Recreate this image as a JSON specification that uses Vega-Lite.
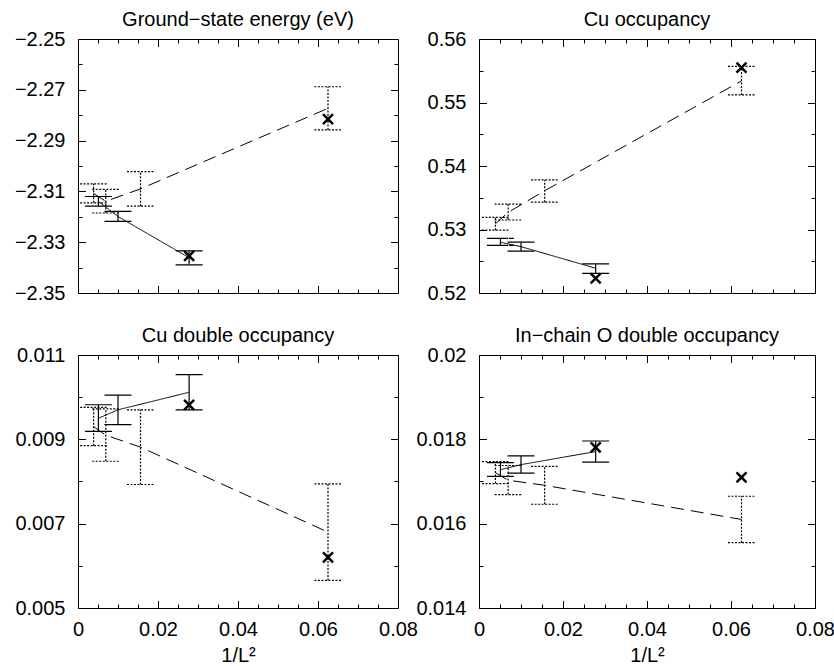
{
  "$schema": "https://vega.github.io/schema/vega-lite/v6.json",
  "padding": {"left": 13, "top": 9, "right": 5, "bottom": 0},
  "background": "white",
  "datasets": {
    "bars": [
      {"panel": "E", "L": 4, "x": 0.0625, "series": "B", "y": -2.2773, "lo": -2.2858, "hi": -2.2688},
      {"panel": "E", "L": 8, "x": 0.015625, "series": "B", "y": -2.309, "lo": -2.3158, "hi": -2.3022},
      {"panel": "E", "L": 12, "x": 0.006944, "series": "B", "y": -2.3139, "lo": -2.3185, "hi": -2.3092},
      {"panel": "E", "L": 16, "x": 0.003906, "series": "B", "y": -2.3108, "lo": -2.3145, "hi": -2.307},
      {"panel": "E", "L": 6, "x": 0.027778, "series": "A", "y": -2.3361, "lo": -2.3389, "hi": -2.3334},
      {"panel": "E", "L": 10, "x": 0.01, "series": "A", "y": -2.3199, "lo": -2.3218, "hi": -2.3179},
      {"panel": "E", "L": 14, "x": 0.005102, "series": "A", "y": -2.3139, "lo": -2.3158, "hi": -2.312},
      {"panel": "C", "L": 4, "x": 0.0625, "series": "B", "y": 0.5534, "lo": 0.5512, "hi": 0.5557},
      {"panel": "C", "L": 8, "x": 0.015625, "series": "B", "y": 0.5361, "lo": 0.5343, "hi": 0.5378},
      {"panel": "C", "L": 12, "x": 0.006944, "series": "B", "y": 0.5327, "lo": 0.5315, "hi": 0.534},
      {"panel": "C", "L": 16, "x": 0.003906, "series": "B", "y": 0.5309, "lo": 0.5299, "hi": 0.5319},
      {"panel": "C", "L": 6, "x": 0.027778, "series": "A", "y": 0.5239, "lo": 0.5231, "hi": 0.5246},
      {"panel": "C", "L": 10, "x": 0.01, "series": "A", "y": 0.5273, "lo": 0.5266, "hi": 0.528},
      {"panel": "C", "L": 14, "x": 0.005102, "series": "A", "y": 0.528, "lo": 0.5275, "hi": 0.5286},
      {"panel": "D", "L": 4, "x": 0.0625, "series": "B", "y": 0.0068, "lo": 0.005655, "hi": 0.007945},
      {"panel": "D", "L": 8, "x": 0.015625, "series": "B", "y": 0.008814, "lo": 0.007929, "hi": 0.0097},
      {"panel": "D", "L": 12, "x": 0.006944, "series": "B", "y": 0.0091, "lo": 0.00848, "hi": 0.00972},
      {"panel": "D", "L": 16, "x": 0.003906, "series": "B", "y": 0.0093, "lo": 0.00885, "hi": 0.00976},
      {"panel": "D", "L": 6, "x": 0.027778, "series": "A", "y": 0.010116, "lo": 0.009697, "hi": 0.010534},
      {"panel": "D", "L": 10, "x": 0.01, "series": "A", "y": 0.0097, "lo": 0.00935, "hi": 0.01005},
      {"panel": "D", "L": 14, "x": 0.005102, "series": "A", "y": 0.0095, "lo": 0.00919, "hi": 0.00982},
      {"panel": "O", "L": 4, "x": 0.0625, "series": "B", "y": 0.0161, "lo": 0.01555, "hi": 0.01665},
      {"panel": "O", "L": 8, "x": 0.015625, "series": "B", "y": 0.01691, "lo": 0.01646, "hi": 0.01736},
      {"panel": "O", "L": 12, "x": 0.006944, "series": "B", "y": 0.01703, "lo": 0.01669, "hi": 0.01738},
      {"panel": "O", "L": 16, "x": 0.003906, "series": "B", "y": 0.01721, "lo": 0.01695, "hi": 0.01747},
      {"panel": "O", "L": 6, "x": 0.027778, "series": "A", "y": 0.01771, "lo": 0.01746, "hi": 0.01796},
      {"panel": "O", "L": 10, "x": 0.01, "series": "A", "y": 0.0174, "lo": 0.0172, "hi": 0.01761},
      {"panel": "O", "L": 14, "x": 0.005102, "series": "A", "y": 0.01728, "lo": 0.01712, "hi": 0.01745}
    ],
    "exact": [
      {"panel": "E", "x": 0.027778, "y": -2.3354},
      {"panel": "E", "x": 0.0625, "y": -2.2815},
      {"panel": "C", "x": 0.027778, "y": 0.5223},
      {"panel": "C", "x": 0.0625, "y": 0.5555},
      {"panel": "D", "x": 0.027778, "y": 0.009816},
      {"panel": "D", "x": 0.0625, "y": 0.0062},
      {"panel": "O", "x": 0.027778, "y": 0.01781},
      {"panel": "O", "x": 0.0625, "y": 0.0171}
    ]
  },
  "columns": 2,
  "align": "each",
  "bounds": "flush",
  "spacing": {"row": 62, "column": 81},
  "concat": [
    {
      "width": 320, "height": 254,
      "title": {"text": "Ground−state energy (eV)"},
      "resolve": {"axis": {"x": "independent", "y": "independent"}, "scale": {"strokeDash": "independent"}},
      "layer": [
        {
          "data": {"name": "bars"}, "transform": [{"filter": "datum.panel === 'E'"}],
          "mark": {"type": "rule", "strokeWidth": 1.2, "color": "black"},
          "encoding": {
            "x": {"field": "x", "type": "quantitative", "scale": {"domain": [0, 0.08], "nice": false, "zero": false},
              "axis": {"orient": "bottom", "values": [0,0.005,0.01,0.015,0.02,0.025,0.03,0.035,0.04,0.045,0.05,0.055,0.06,0.065,0.07,0.075,0.08], "labels": false, "title": null,
                "tickSize": {"condition": {"test": "abs(datum.value/0.02 - round(datum.value/0.02)) < 1e-6", "value": -7.5}, "value": -4}}},
            "y": {"field": "lo", "type": "quantitative", "scale": {"domain": [-2.35, -2.25], "nice": false, "zero": false},
              "axis": {"orient": "left", "values": [-2.35,-2.34,-2.33,-2.32,-2.31,-2.3,-2.29,-2.28,-2.27,-2.26,-2.25], "title": null, "format": ".2f",
                "labelExpr": "abs((datum.value+2.35)/0.02 - round((datum.value+2.35)/0.02)) < 1e-6 ? datum.label : ''",
                "tickSize": {"condition": {"test": "abs((datum.value+2.35)/0.02 - round((datum.value+2.35)/0.02)) < 1e-6", "value": -7.5}, "value": -4}}},
            "y2": {"field": "hi"},
            "strokeDash": {"field": "series", "type": "nominal", "scale": {"domain": ["A", "B"], "range": [[1, 0], [2, 1.5]]}, "legend": null}
          }
        },
        {
          "data": {"name": "bars"}, "transform": [{"filter": "datum.panel === 'E'"}],
          "mark": {"type": "rule", "strokeWidth": 1.2, "color": "black", "xOffset": -13.5, "x2Offset": 13.5},
          "encoding": {
            "x": {"field": "x", "type": "quantitative", "axis": null}, "x2": {"field": "x"},
            "y": {"field": "lo", "type": "quantitative", "axis": null},
            "strokeDash": {"field": "series", "type": "nominal", "scale": {"domain": ["A", "B"], "range": [[1, 0], [2, 1.5]]}, "legend": null}
          }
        },
        {
          "data": {"name": "bars"}, "transform": [{"filter": "datum.panel === 'E'"}],
          "mark": {"type": "rule", "strokeWidth": 1.2, "color": "black", "xOffset": -13.5, "x2Offset": 13.5},
          "encoding": {
            "x": {"field": "x", "type": "quantitative", "axis": null}, "x2": {"field": "x"},
            "y": {"field": "hi", "type": "quantitative", "axis": null},
            "strokeDash": {"field": "series", "type": "nominal", "scale": {"domain": ["A", "B"], "range": [[1, 0], [2, 1.5]]}, "legend": null}
          }
        },
        {
          "data": {"name": "bars"}, "transform": [{"filter": "datum.panel === 'E'"}],
          "mark": {"type": "line", "strokeWidth": 1, "color": "black"},
          "encoding": {
            "x": {"field": "x", "type": "quantitative",
              "axis": {"orient": "top", "values": [0,0.005,0.01,0.015,0.02,0.025,0.03,0.035,0.04,0.045,0.05,0.055,0.06,0.065,0.07,0.075,0.08], "labels": false, "title": null,
                "tickSize": {"condition": {"test": "abs(datum.value/0.02 - round(datum.value/0.02)) < 1e-6", "value": -7.5}, "value": -4}}},
            "y": {"field": "y", "type": "quantitative",
              "axis": {"orient": "right", "values": [-2.35,-2.34,-2.33,-2.32,-2.31,-2.3,-2.29,-2.28,-2.27,-2.26,-2.25], "labels": false, "title": null,
                "tickSize": {"condition": {"test": "abs((datum.value+2.35)/0.02 - round((datum.value+2.35)/0.02)) < 1e-6", "value": -7.5}, "value": -4}}},
            "strokeDash": {"field": "series", "type": "nominal", "scale": {"domain": ["A", "B"], "range": [[1, 0], [13, 7]]}, "legend": null}
          }
        },
        {
          "data": {"name": "exact"}, "transform": [{"filter": "datum.panel === 'E'"}],
          "mark": {"type": "point", "shape": "M-1,-1L1,1M-1,1L1,-1", "size": 100, "filled": false, "stroke": "black", "strokeWidth": 2.5, "opacity": 1},
          "encoding": {
            "x": {"field": "x", "type": "quantitative", "axis": null},
            "y": {"field": "y", "type": "quantitative", "axis": null}
          }
        }
      ]
    },
    {
      "width": 336, "height": 254,
      "title": {"text": "Cu occupancy"},
      "resolve": {"axis": {"x": "independent", "y": "independent"}, "scale": {"strokeDash": "independent"}},
      "layer": [
        {
          "data": {"name": "bars"}, "transform": [{"filter": "datum.panel === 'C'"}],
          "mark": {"type": "rule", "strokeWidth": 1.2, "color": "black"},
          "encoding": {
            "x": {"field": "x", "type": "quantitative", "scale": {"domain": [0, 0.08], "nice": false, "zero": false},
              "axis": {"orient": "bottom", "values": [0,0.005,0.01,0.015,0.02,0.025,0.03,0.035,0.04,0.045,0.05,0.055,0.06,0.065,0.07,0.075,0.08], "labels": false, "title": null,
                "tickSize": {"condition": {"test": "abs(datum.value/0.02 - round(datum.value/0.02)) < 1e-6", "value": -7.5}, "value": -4}}},
            "y": {"field": "lo", "type": "quantitative", "scale": {"domain": [0.52, 0.56], "nice": false, "zero": false},
              "axis": {"orient": "left", "values": [0.52,0.525,0.53,0.535,0.54,0.545,0.55,0.555,0.56], "title": null, "format": ".2f",
                "labelExpr": "abs((datum.value-0.52)/0.01 - round((datum.value-0.52)/0.01)) < 1e-6 ? datum.label : ''",
                "tickSize": {"condition": {"test": "abs((datum.value-0.52)/0.01 - round((datum.value-0.52)/0.01)) < 1e-6", "value": -7.5}, "value": -4}}},
            "y2": {"field": "hi"},
            "strokeDash": {"field": "series", "type": "nominal", "scale": {"domain": ["A", "B"], "range": [[1, 0], [2, 1.5]]}, "legend": null}
          }
        },
        {
          "data": {"name": "bars"}, "transform": [{"filter": "datum.panel === 'C'"}],
          "mark": {"type": "rule", "strokeWidth": 1.2, "color": "black", "xOffset": -13.5, "x2Offset": 13.5},
          "encoding": {
            "x": {"field": "x", "type": "quantitative", "axis": null}, "x2": {"field": "x"},
            "y": {"field": "lo", "type": "quantitative", "axis": null},
            "strokeDash": {"field": "series", "type": "nominal", "scale": {"domain": ["A", "B"], "range": [[1, 0], [2, 1.5]]}, "legend": null}
          }
        },
        {
          "data": {"name": "bars"}, "transform": [{"filter": "datum.panel === 'C'"}],
          "mark": {"type": "rule", "strokeWidth": 1.2, "color": "black", "xOffset": -13.5, "x2Offset": 13.5},
          "encoding": {
            "x": {"field": "x", "type": "quantitative", "axis": null}, "x2": {"field": "x"},
            "y": {"field": "hi", "type": "quantitative", "axis": null},
            "strokeDash": {"field": "series", "type": "nominal", "scale": {"domain": ["A", "B"], "range": [[1, 0], [2, 1.5]]}, "legend": null}
          }
        },
        {
          "data": {"name": "bars"}, "transform": [{"filter": "datum.panel === 'C'"}],
          "mark": {"type": "line", "strokeWidth": 1, "color": "black"},
          "encoding": {
            "x": {"field": "x", "type": "quantitative",
              "axis": {"orient": "top", "values": [0,0.005,0.01,0.015,0.02,0.025,0.03,0.035,0.04,0.045,0.05,0.055,0.06,0.065,0.07,0.075,0.08], "labels": false, "title": null,
                "tickSize": {"condition": {"test": "abs(datum.value/0.02 - round(datum.value/0.02)) < 1e-6", "value": -7.5}, "value": -4}}},
            "y": {"field": "y", "type": "quantitative",
              "axis": {"orient": "right", "values": [0.52,0.525,0.53,0.535,0.54,0.545,0.55,0.555,0.56], "labels": false, "title": null,
                "tickSize": {"condition": {"test": "abs((datum.value-0.52)/0.01 - round((datum.value-0.52)/0.01)) < 1e-6", "value": -7.5}, "value": -4}}},
            "strokeDash": {"field": "series", "type": "nominal", "scale": {"domain": ["A", "B"], "range": [[1, 0], [13, 7]]}, "legend": null}
          }
        },
        {
          "data": {"name": "exact"}, "transform": [{"filter": "datum.panel === 'C'"}],
          "mark": {"type": "point", "shape": "M-1,-1L1,1M-1,1L1,-1", "size": 100, "filled": false, "stroke": "black", "strokeWidth": 2.5, "opacity": 1},
          "encoding": {
            "x": {"field": "x", "type": "quantitative", "axis": null},
            "y": {"field": "y", "type": "quantitative", "axis": null}
          }
        }
      ]
    },
    {
      "width": 320, "height": 253,
      "title": {"text": "Cu double occupancy"},
      "resolve": {"axis": {"x": "independent", "y": "independent"}, "scale": {"strokeDash": "independent"}},
      "layer": [
        {
          "data": {"name": "bars"}, "transform": [{"filter": "datum.panel === 'D'"}],
          "mark": {"type": "rule", "strokeWidth": 1.2, "color": "black"},
          "encoding": {
            "x": {"field": "x", "type": "quantitative", "scale": {"domain": [0, 0.08], "nice": false, "zero": false},
              "axis": {"orient": "bottom", "values": [0,0.005,0.01,0.015,0.02,0.025,0.03,0.035,0.04,0.045,0.05,0.055,0.06,0.065,0.07,0.075,0.08], "title": "1/L²", "format": ".2~f",
                "labelExpr": "abs(datum.value/0.02 - round(datum.value/0.02)) < 1e-6 ? datum.label : ''",
                "tickSize": {"condition": {"test": "abs(datum.value/0.02 - round(datum.value/0.02)) < 1e-6", "value": -7.5}, "value": -4}}},
            "y": {"field": "lo", "type": "quantitative", "scale": {"domain": [0.005, 0.011], "nice": false, "zero": false},
              "axis": {"orient": "left", "values": [0.005,0.006,0.007,0.008,0.009,0.01,0.011], "title": null, "format": ".3f",
                "labelExpr": "abs((datum.value-0.005)/0.002 - round((datum.value-0.005)/0.002)) < 1e-6 ? datum.label : ''",
                "tickSize": {"condition": {"test": "abs((datum.value-0.005)/0.002 - round((datum.value-0.005)/0.002)) < 1e-6", "value": -7.5}, "value": -4}}},
            "y2": {"field": "hi"},
            "strokeDash": {"field": "series", "type": "nominal", "scale": {"domain": ["A", "B"], "range": [[1, 0], [2, 1.5]]}, "legend": null}
          }
        },
        {
          "data": {"name": "bars"}, "transform": [{"filter": "datum.panel === 'D'"}],
          "mark": {"type": "rule", "strokeWidth": 1.2, "color": "black", "xOffset": -13.5, "x2Offset": 13.5},
          "encoding": {
            "x": {"field": "x", "type": "quantitative", "axis": null}, "x2": {"field": "x"},
            "y": {"field": "lo", "type": "quantitative", "axis": null},
            "strokeDash": {"field": "series", "type": "nominal", "scale": {"domain": ["A", "B"], "range": [[1, 0], [2, 1.5]]}, "legend": null}
          }
        },
        {
          "data": {"name": "bars"}, "transform": [{"filter": "datum.panel === 'D'"}],
          "mark": {"type": "rule", "strokeWidth": 1.2, "color": "black", "xOffset": -13.5, "x2Offset": 13.5},
          "encoding": {
            "x": {"field": "x", "type": "quantitative", "axis": null}, "x2": {"field": "x"},
            "y": {"field": "hi", "type": "quantitative", "axis": null},
            "strokeDash": {"field": "series", "type": "nominal", "scale": {"domain": ["A", "B"], "range": [[1, 0], [2, 1.5]]}, "legend": null}
          }
        },
        {
          "data": {"name": "bars"}, "transform": [{"filter": "datum.panel === 'D'"}],
          "mark": {"type": "line", "strokeWidth": 1, "color": "black"},
          "encoding": {
            "x": {"field": "x", "type": "quantitative",
              "axis": {"orient": "top", "values": [0,0.005,0.01,0.015,0.02,0.025,0.03,0.035,0.04,0.045,0.05,0.055,0.06,0.065,0.07,0.075,0.08], "labels": false, "title": null,
                "tickSize": {"condition": {"test": "abs(datum.value/0.02 - round(datum.value/0.02)) < 1e-6", "value": -7.5}, "value": -4}}},
            "y": {"field": "y", "type": "quantitative",
              "axis": {"orient": "right", "values": [0.005,0.006,0.007,0.008,0.009,0.01,0.011], "labels": false, "title": null,
                "tickSize": {"condition": {"test": "abs((datum.value-0.005)/0.002 - round((datum.value-0.005)/0.002)) < 1e-6", "value": -7.5}, "value": -4}}},
            "strokeDash": {"field": "series", "type": "nominal", "scale": {"domain": ["A", "B"], "range": [[1, 0], [13, 7]]}, "legend": null}
          }
        },
        {
          "data": {"name": "exact"}, "transform": [{"filter": "datum.panel === 'D'"}],
          "mark": {"type": "point", "shape": "M-1,-1L1,1M-1,1L1,-1", "size": 100, "filled": false, "stroke": "black", "strokeWidth": 2.5, "opacity": 1},
          "encoding": {
            "x": {"field": "x", "type": "quantitative", "axis": null},
            "y": {"field": "y", "type": "quantitative", "axis": null}
          }
        }
      ]
    },
    {
      "width": 336, "height": 253,
      "title": {"text": "In−chain O double occupancy"},
      "resolve": {"axis": {"x": "independent", "y": "independent"}, "scale": {"strokeDash": "independent"}},
      "layer": [
        {
          "data": {"name": "bars"}, "transform": [{"filter": "datum.panel === 'O'"}],
          "mark": {"type": "rule", "strokeWidth": 1.2, "color": "black"},
          "encoding": {
            "x": {"field": "x", "type": "quantitative", "scale": {"domain": [0, 0.08], "nice": false, "zero": false},
              "axis": {"orient": "bottom", "values": [0,0.005,0.01,0.015,0.02,0.025,0.03,0.035,0.04,0.045,0.05,0.055,0.06,0.065,0.07,0.075,0.08], "title": "1/L²", "format": ".2~f",
                "labelExpr": "abs(datum.value/0.02 - round(datum.value/0.02)) < 1e-6 ? datum.label : ''",
                "tickSize": {"condition": {"test": "abs(datum.value/0.02 - round(datum.value/0.02)) < 1e-6", "value": -7.5}, "value": -4}}},
            "y": {"field": "lo", "type": "quantitative", "scale": {"domain": [0.014, 0.02], "nice": false, "zero": false},
              "axis": {"orient": "left", "values": [0.014,0.015,0.016,0.017,0.018,0.019,0.02], "title": null, "format": ".3~f",
                "labelExpr": "abs((datum.value-0.014)/0.002 - round((datum.value-0.014)/0.002)) < 1e-6 ? datum.label : ''",
                "tickSize": {"condition": {"test": "abs((datum.value-0.014)/0.002 - round((datum.value-0.014)/0.002)) < 1e-6", "value": -7.5}, "value": -4}}},
            "y2": {"field": "hi"},
            "strokeDash": {"field": "series", "type": "nominal", "scale": {"domain": ["A", "B"], "range": [[1, 0], [2, 1.5]]}, "legend": null}
          }
        },
        {
          "data": {"name": "bars"}, "transform": [{"filter": "datum.panel === 'O'"}],
          "mark": {"type": "rule", "strokeWidth": 1.2, "color": "black", "xOffset": -13.5, "x2Offset": 13.5},
          "encoding": {
            "x": {"field": "x", "type": "quantitative", "axis": null}, "x2": {"field": "x"},
            "y": {"field": "lo", "type": "quantitative", "axis": null},
            "strokeDash": {"field": "series", "type": "nominal", "scale": {"domain": ["A", "B"], "range": [[1, 0], [2, 1.5]]}, "legend": null}
          }
        },
        {
          "data": {"name": "bars"}, "transform": [{"filter": "datum.panel === 'O'"}],
          "mark": {"type": "rule", "strokeWidth": 1.2, "color": "black", "xOffset": -13.5, "x2Offset": 13.5},
          "encoding": {
            "x": {"field": "x", "type": "quantitative", "axis": null}, "x2": {"field": "x"},
            "y": {"field": "hi", "type": "quantitative", "axis": null},
            "strokeDash": {"field": "series", "type": "nominal", "scale": {"domain": ["A", "B"], "range": [[1, 0], [2, 1.5]]}, "legend": null}
          }
        },
        {
          "data": {"name": "bars"}, "transform": [{"filter": "datum.panel === 'O'"}],
          "mark": {"type": "line", "strokeWidth": 1, "color": "black"},
          "encoding": {
            "x": {"field": "x", "type": "quantitative",
              "axis": {"orient": "top", "values": [0,0.005,0.01,0.015,0.02,0.025,0.03,0.035,0.04,0.045,0.05,0.055,0.06,0.065,0.07,0.075,0.08], "labels": false, "title": null,
                "tickSize": {"condition": {"test": "abs(datum.value/0.02 - round(datum.value/0.02)) < 1e-6", "value": -7.5}, "value": -4}}},
            "y": {"field": "y", "type": "quantitative",
              "axis": {"orient": "right", "values": [0.014,0.015,0.016,0.017,0.018,0.019,0.02], "labels": false, "title": null,
                "tickSize": {"condition": {"test": "abs((datum.value-0.014)/0.002 - round((datum.value-0.014)/0.002)) < 1e-6", "value": -7.5}, "value": -4}}},
            "strokeDash": {"field": "series", "type": "nominal", "scale": {"domain": ["A", "B"], "range": [[1, 0], [13, 7]]}, "legend": null}
          }
        },
        {
          "data": {"name": "exact"}, "transform": [{"filter": "datum.panel === 'O'"}],
          "mark": {"type": "point", "shape": "M-1,-1L1,1M-1,1L1,-1", "size": 100, "filled": false, "stroke": "black", "strokeWidth": 2.5, "opacity": 1},
          "encoding": {
            "x": {"field": "x", "type": "quantitative", "axis": null},
            "y": {"field": "y", "type": "quantitative", "axis": null}
          }
        }
      ]
    }
  ],
  "config": {
    "font": "Liberation Sans",
    "view": {"stroke": "black", "strokeWidth": 1},
    "axis": {
      "domain": false, "grid": false, "tickColor": "black", "tickWidth": 1,
      "labelFont": "Liberation Sans", "labelFontSize": 20, "labelColor": "black",
      "labelFlush": false, "labelOverlap": false, "labelBound": false,
      "titleFont": "Liberation Sans", "titleFontSize": 20, "titleFontWeight": "normal", "titleColor": "black",
      "titleBaseline": "alphabetic", "titleY": 53
    },
    "axisX": {"labelPadding": 18.5},
    "axisY": {"labelPadding": 20.5},
    "title": {"font": "Liberation Sans", "fontSize": 20, "fontWeight": "normal", "color": "black", "baseline": "alphabetic", "offset": -1}
  }
}
